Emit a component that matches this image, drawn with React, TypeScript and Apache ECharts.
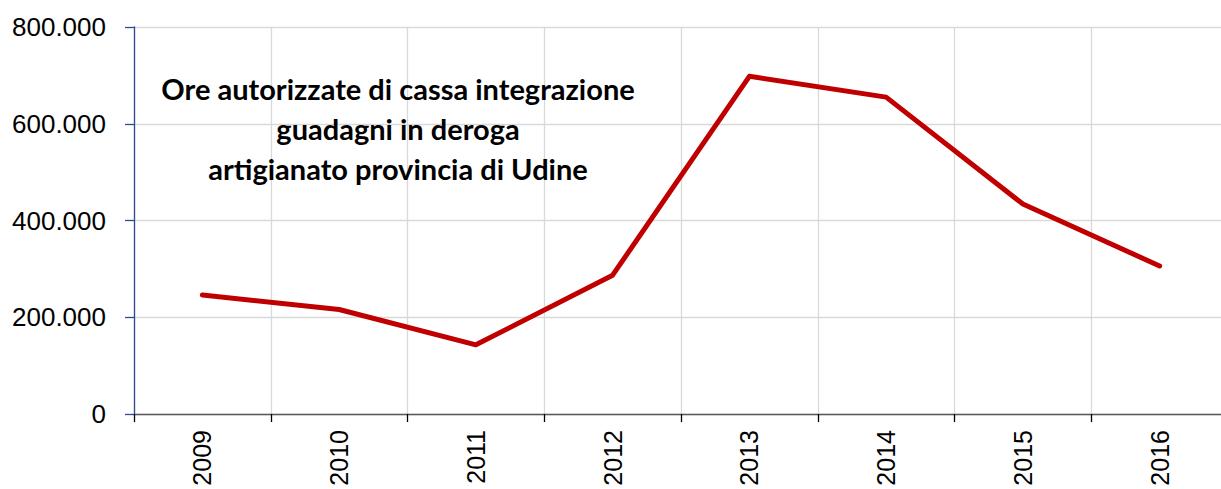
import React, { useEffect, useRef } from "react";
import * as echarts from "echarts";

const years = ["2009", "2010", "2011", "2012", "2013", "2014", "2015", "2016"];
const hours = [246000, 216000, 143000, 287000, 698000, 655000, 434000, 306000];
const yTicks = { min: 0, max: 800000, interval: 200000 };
const titleLines = [
  "Ore autorizzate di cassa integrazione",
  "guadagni in deroga",
  "artigianato provincia di Udine",
];

function fmt(v: number): string {
  const s = String(Math.round(v));
  return s.replace(/\B(?=(\d{3})+(?!\d))/g, ".");
}

export default function App() {
  const ref = useRef<HTMLDivElement>(null);
  useEffect(() => {
    if (!ref.current) return;
    const chart = echarts.init(ref.current, null, { renderer: "svg" });
    chart.setOption({
      animation: false,
      backgroundColor: "#ffffff",
      grid: {
        left: 134,
        top: 27,
        width: 1094,
        height: 387,
        containLabel: false,
        outerBoundsMode: "none",
      },
      xAxis: {
        type: "category",
        data: years,
        boundaryGap: true,
        axisLine: { show: true, lineStyle: { color: "#595959", width: 1.3 } },
        axisTick: { show: true, length: 8, lineStyle: { color: "#000", width: 1.3 } },
        splitLine: { show: true, lineStyle: { color: "#d9d9d9", width: 1.3 } },
        axisLabel: {
          rotate: 90,
          margin: 16,
          fontSize: 25,
          fontFamily: "Liberation Sans",
          color: "#000",
        },
      },
      yAxis: {
        type: "value",
        min: yTicks.min,
        max: yTicks.max,
        interval: yTicks.interval,
        axisLine: { show: true, lineStyle: { color: "#2f4b8f", width: 1.3 } },
        axisTick: { show: true, length: 9, lineStyle: { color: "#2f4b8f", width: 1.3 } },
        splitLine: { show: true, lineStyle: { color: "#d9d9d9", width: 1.3 } },
        axisLabel: {
          margin: 28,
          fontSize: 26,
          fontFamily: "Liberation Sans",
          color: "#000",
          formatter: (v: number) => fmt(v),
        },
      },
      graphic: [
        {
          type: "text",
          x: 398,
          y: 68,
          z: 10,
          style: {
            text: titleLines.join("\n"),
            textAlign: "center",
            textVerticalAlign: "top",
            font: "bold 29px Lato",
            lineHeight: 40,
            fill: "#000",
          },
        },
      ],
      series: [
        {
          type: "line",
          data: hours,
          symbol: "none",
          lineStyle: { color: "#c00000", width: 5, cap: "round", join: "round" },
        },
      ],
    });
    return () => chart.dispose();
  }, []);
  return (
    <div
      ref={ref}
      style={{ position: "absolute", left: 0, top: 0, width: 1221, height: 489 }}
    />
  );
}
